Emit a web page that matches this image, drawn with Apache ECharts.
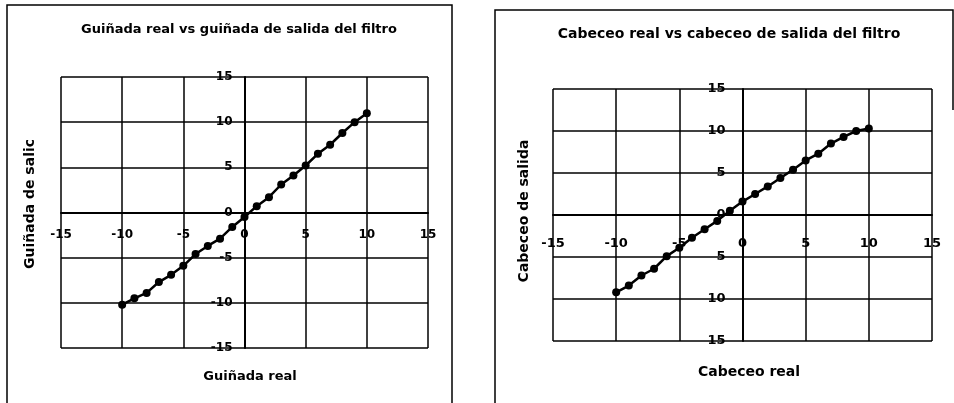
<!DOCTYPE html>
<html>
<head>
<meta charset="utf-8">
<script src="https://cdn.jsdelivr.net/npm/echarts@6/dist/echarts.min.js"></script>
<style>
  html, body { margin: 0; padding: 0; background: #fff; }
  #chart { width: 954px; height: 403px; }
</style>
</head>
<body>
<div id="chart"></div>
<script>
// valores
const realVals = [-10, -9, -8, -7, -6, -5, -4, -3, -2, -1, 0, 1, 2, 3, 4, 5, 6, 7, 8, 9, 10];
const guinadaSalida = [-10.2, -9.5, -8.9, -7.7, -6.9, -5.9, -4.6, -3.7, -2.9, -1.6, -0.5, 0.7, 1.7, 3.1, 4.1, 5.2, 6.5, 7.5, 8.8, 10.0, 11.0];
const cabeceoSalida = [-9.2, -8.4, -7.2, -6.4, -4.9, -3.9, -2.7, -1.7, -0.7, 0.5, 1.6, 2.5, 3.4, 4.4, 5.4, 6.5, 7.3, 8.5, 9.3, 10.0, 10.3];
const axisMin = -15, axisMax = 15, axisStep = 5;

const font = '"DejaVu Sans", Arial, sans-serif';
const W = 954, H = 403;

// cajas de los dos graficos
const grids = [
  { left: 61, right: 526, top: 77, bottom: 55 },
  { left: 553, right: 22, top: 89, bottom: 62 }
];

function pairs(xs, ys) {
  return xs.map((x, i) => [x, ys[i]]);
}

// el eje cruza en el cero: se desplaza a la mitad de la caja
function makeX(idx, margin, size) {
  const g = grids[idx];
  const h = H - g.top - g.bottom;
  return {
    type: 'value', gridIndex: idx, min: axisMin, max: axisMax, interval: axisStep,
    position: 'bottom', offset: -h / 2,
    axisLine: { onZero: false, lineStyle: { color: '#000', width: 2 } },
    axisTick: { show: false },
    axisLabel: { color: '#000', fontWeight: 'bold', fontSize: size, fontFamily: font, margin: margin },
    splitLine: { show: true, lineStyle: { color: '#000', width: 1.5 } }
  };
}
function makeY(idx, margin, size, fmt) {
  const g = grids[idx];
  const w = W - g.left - g.right;
  return {
    type: 'value', gridIndex: idx, min: axisMin, max: axisMax, interval: axisStep,
    position: 'left', offset: -w / 2,
    axisLine: { onZero: false, lineStyle: { color: '#000', width: 2 } },
    axisTick: { show: false },
    axisLabel: { color: '#000', fontWeight: 'bold', fontSize: size, fontFamily: font, margin: margin, formatter: fmt },
    splitLine: { show: true, lineStyle: { color: '#000', width: 1.5 } }
  };
}
function makeSeries(idx, data) {
  return {
    type: 'line', xAxisIndex: idx, yAxisIndex: idx, data: data,
    symbol: 'circle', symbolSize: 8,
    lineStyle: { color: '#000', width: 2.5 },
    itemStyle: { color: '#000' },
    animation: false
  };
}

function ts(size) {
  return { color: '#000', fontWeight: 'bold', fontSize: size, fontFamily: font };
}

const chart = echarts.init(document.getElementById('chart'));
chart.setOption({
  backgroundColor: '#fff',
  title: [
    { text: 'Guiñada real vs guiñada de salida del filtro', left: 234, top: 18, textAlign: 'center', textStyle: ts(13) },
    { text: 'Cabeceo real vs cabeceo de salida del filtro', left: 724, top: 22, textAlign: 'center', textStyle: ts(14) },
    { text: 'Guiñada real', left: 245, top: 365, textAlign: 'center', textStyle: ts(13) },
    { text: 'Cabeceo real', left: 744, top: 360, textAlign: 'center', textStyle: ts(14) }
  ],
  grid: grids,
  xAxis: [makeX(0, 16, 12), makeX(1, 22, 13)],
  yAxis: [makeY(0, 12, 12), makeY(1, 17, 13, v => String(Math.abs(v)))],
  series: [
    makeSeries(0, pairs(realVals, guinadaSalida)),
    makeSeries(1, pairs(realVals, cabeceoSalida))
  ],
  graphic: [
    { type: 'text', x: 30, y: 204, rotation: Math.PI / 2,
      style: { text: 'Guiñada de salic', fill: '#000', font: 'bold 14px ' + font, align: 'center', verticalAlign: 'middle' } },
    { type: 'text', x: 524, y: 211, rotation: Math.PI / 2,
      style: { text: 'Cabeceo de salida', fill: '#000', font: 'bold 14px ' + font, align: 'center', verticalAlign: 'middle' } },
    { type: 'polyline', shape: { points: [[7, 403], [7, 5], [452, 5], [452, 403]] },
      style: { stroke: '#000', lineWidth: 1.5, fill: null } },
    { type: 'polyline', shape: { points: [[495, 403], [495, 10], [953, 10], [953, 110]] },
      style: { stroke: '#000', lineWidth: 1.5, fill: null } }
  ]
});
</script>
</body>
</html>
